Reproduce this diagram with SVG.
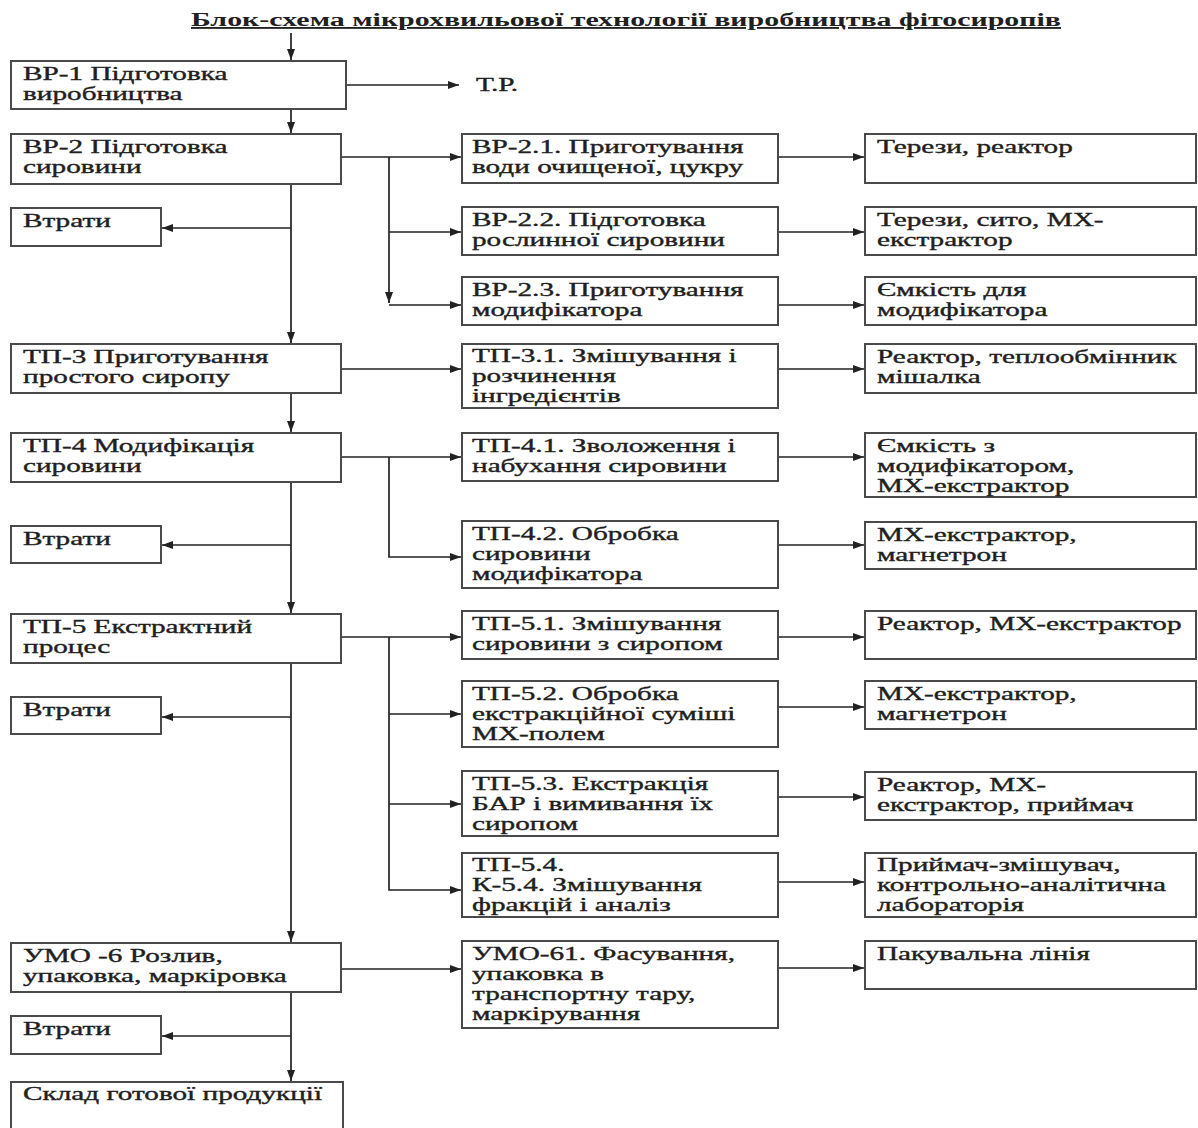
<svg xmlns="http://www.w3.org/2000/svg" width="1198" height="1128" viewBox="0 0 1198 1128">
<defs>
<marker id="ah" markerUnits="userSpaceOnUse" markerWidth="11" markerHeight="8" refX="11" refY="4" orient="auto">
<path d="M0,0 L11,4 L0,8 z" fill="#222"/>
</marker>
<style>
.box{fill:#fff;stroke:#4a4a4a;stroke-width:2}
.t{font-family:"Liberation Serif","Times New Roman",serif;font-size:18.5px;fill:#202020;stroke:#202020;stroke-width:0.35}
.title{font-family:"Liberation Serif","Times New Roman",serif;font-size:18.5px;font-weight:bold;fill:#202020;text-decoration:underline}
.c{fill:none;stroke:#222;stroke-width:1.7}
.a{marker-end:url(#ah)}
</style>
</defs>
<rect width="1198" height="1128" fill="#fff"/>
<text class="title" x="191" y="26" textLength="870" lengthAdjust="spacingAndGlyphs">Блок-схема мікрохвильової технології виробництва фітосиропів</text>

<g id="connectors">
<path class="c a" d="M291,33 V60"/>
<path class="c a" d="M346,85 H459"/>
<path class="c a" d="M291,109 V133"/>
<path class="c a" d="M341,157 H461"/>
<path class="c a" d="M389,157 V303"/>
<path class="c a" d="M389,232 H461"/>
<path class="c a" d="M389,305 H461"/>
<path class="c a" d="M778,157 H864"/>
<path class="c a" d="M778,232 H864"/>
<path class="c a" d="M778,305 H864"/>
<path class="c a" d="M291,184 V343"/>
<path class="c a" d="M291,228 H162"/>
<path class="c a" d="M341,369 H461"/>
<path class="c a" d="M778,369 H864"/>
<path class="c a" d="M291,393 V432"/>
<path class="c a" d="M341,457 H461"/>
<path class="c a" d="M389,457 V557 H461"/>
<path class="c a" d="M778,457 H864"/>
<path class="c a" d="M778,545 H864"/>
<path class="c a" d="M291,482 V613"/>
<path class="c a" d="M291,545 H162"/>
<path class="c a" d="M341,637 H461"/>
<path class="c a" d="M389,637 V890 H461"/>
<path class="c a" d="M389,714 H461"/>
<path class="c a" d="M389,804 H461"/>
<path class="c a" d="M778,637 H864"/>
<path class="c a" d="M778,707 H864"/>
<path class="c a" d="M778,797 H864"/>
<path class="c a" d="M778,882 H864"/>
<path class="c a" d="M291,663 V942"/>
<path class="c a" d="M291,717 H162"/>
<path class="c a" d="M341,969 H461"/>
<path class="c a" d="M778,968 H864"/>
<path class="c a" d="M291,992 V1081"/>
<path class="c a" d="M291,1036 H162"/>
</g>

<text class="t" transform="translate(476,91) scale(1.58,1)">Т.Р.</text>

<g id="vr1"><rect class="box" x="11" y="61" width="335" height="48"/>
<text class="t" transform="translate(23,80) scale(1.58,1)"><tspan x="0" y="0">ВР-1 Підготовка</tspan><tspan x="0" y="20">виробництва</tspan></text></g>
<g id="vr2"><rect class="box" x="11" y="134" width="330" height="50"/>
<text class="t" transform="translate(23,153) scale(1.58,1)"><tspan x="0" y="0">ВР-2 Підготовка</tspan><tspan x="0" y="20">сировини</tspan></text></g>
<g id="loss1"><rect class="box" x="11" y="208" width="150" height="38"/>
<text class="t" transform="translate(23,227) scale(1.58,1)">Втрати</text></g>
<g id="tp3"><rect class="box" x="11" y="344" width="330" height="49"/>
<text class="t" transform="translate(23,363) scale(1.58,1)"><tspan x="0" y="0">ТП-3 Приготування</tspan><tspan x="0" y="20">простого сиропу</tspan></text></g>
<g id="tp4"><rect class="box" x="11" y="433" width="330" height="49"/>
<text class="t" transform="translate(23,452) scale(1.58,1)"><tspan x="0" y="0">ТП-4 Модифікація</tspan><tspan x="0" y="20">сировини</tspan></text></g>
<g id="loss2"><rect class="box" x="11" y="526" width="150" height="37"/>
<text class="t" transform="translate(23,545) scale(1.58,1)">Втрати</text></g>
<g id="tp5"><rect class="box" x="11" y="614" width="330" height="49"/>
<text class="t" transform="translate(23,633) scale(1.58,1)"><tspan x="0" y="0">ТП-5 Екстрактний</tspan><tspan x="0" y="20">процес</tspan></text></g>
<g id="loss3"><rect class="box" x="11" y="697" width="150" height="37"/>
<text class="t" transform="translate(23,716) scale(1.58,1)">Втрати</text></g>
<g id="umo6"><rect class="box" x="11" y="943" width="330" height="49"/>
<text class="t" transform="translate(23,962) scale(1.58,1)"><tspan x="0" y="0">УМО -6 Розлив,</tspan><tspan x="0" y="20">упаковка, маркіровка</tspan></text></g>
<g id="loss4"><rect class="box" x="11" y="1016" width="150" height="38"/>
<text class="t" transform="translate(23,1035) scale(1.58,1)">Втрати</text></g>
<g id="sklad"><rect class="box" x="11" y="1082" width="332" height="60"/>
<text class="t" transform="translate(23,1100) scale(1.58,1)">Склад готової продукції</text></g>

<g id="vr21"><rect class="box" x="462" y="134" width="316" height="49"/>
<text class="t" transform="translate(472,153) scale(1.58,1)"><tspan x="0" y="0">ВР-2.1. Приготування</tspan><tspan x="0" y="20">води очищеної, цукру</tspan></text></g>
<g id="vr22"><rect class="box" x="462" y="207" width="316" height="48"/>
<text class="t" transform="translate(472,226) scale(1.58,1)"><tspan x="0" y="0">ВР-2.2. Підготовка</tspan><tspan x="0" y="20">рослинної сировини</tspan></text></g>
<g id="vr23"><rect class="box" x="462" y="277" width="316" height="48"/>
<text class="t" transform="translate(472,296) scale(1.58,1)"><tspan x="0" y="0">ВР-2.3. Приготування</tspan><tspan x="0" y="20">модифікатора</tspan></text></g>
<g id="tp31"><rect class="box" x="462" y="344" width="316" height="64"/>
<text class="t" transform="translate(472,362) scale(1.58,1)"><tspan x="0" y="0">ТП-3.1. Змішування і</tspan><tspan x="0" y="20">розчинення</tspan><tspan x="0" y="40">інгредієнтів</tspan></text></g>
<g id="tp41"><rect class="box" x="462" y="433" width="316" height="48"/>
<text class="t" transform="translate(472,452) scale(1.58,1)"><tspan x="0" y="0">ТП-4.1. Зволоження і</tspan><tspan x="0" y="20">набухання сировини</tspan></text></g>
<g id="tp42"><rect class="box" x="462" y="521" width="316" height="67"/>
<text class="t" transform="translate(472,540) scale(1.58,1)"><tspan x="0" y="0">ТП-4.2. Обробка</tspan><tspan x="0" y="20">сировини</tspan><tspan x="0" y="40">модифікатора</tspan></text></g>
<g id="tp51"><rect class="box" x="462" y="611" width="316" height="48"/>
<text class="t" transform="translate(472,630) scale(1.58,1)"><tspan x="0" y="0">ТП-5.1. Змішування</tspan><tspan x="0" y="20">сировини з сиропом</tspan></text></g>
<g id="tp52"><rect class="box" x="462" y="681" width="316" height="66"/>
<text class="t" transform="translate(472,700) scale(1.58,1)"><tspan x="0" y="0">ТП-5.2. Обробка</tspan><tspan x="0" y="20">екстракційної суміші</tspan><tspan x="0" y="40">МХ-полем</tspan></text></g>
<g id="tp53"><rect class="box" x="462" y="771" width="316" height="65"/>
<text class="t" transform="translate(472,790) scale(1.58,1)"><tspan x="0" y="0">ТП-5.3. Екстракція</tspan><tspan x="0" y="20">БАР і вимивання їх</tspan><tspan x="0" y="40">сиропом</tspan></text></g>
<g id="tp54"><rect class="box" x="462" y="853" width="316" height="64"/>
<text class="t" transform="translate(472,871) scale(1.58,1)"><tspan x="0" y="0">ТП-5.4.</tspan><tspan x="0" y="20">К-5.4. Змішування</tspan><tspan x="0" y="40">фракцій і аналіз</tspan></text></g>
<g id="umo61"><rect class="box" x="462" y="941" width="316" height="87"/>
<text class="t" transform="translate(472,960) scale(1.58,1)"><tspan x="0" y="0">УМО-61. Фасування,</tspan><tspan x="0" y="20">упаковка в</tspan><tspan x="0" y="40">транспортну тару,</tspan><tspan x="0" y="60">маркірування</tspan></text></g>

<g id="r21"><rect class="box" x="865" y="134" width="331" height="49"/>
<text class="t" transform="translate(877,153) scale(1.58,1)">Терези, реактор</text></g>
<g id="r22"><rect class="box" x="865" y="207" width="331" height="48"/>
<text class="t" transform="translate(877,226) scale(1.58,1)"><tspan x="0" y="0">Терези, сито, МХ-</tspan><tspan x="0" y="20">екстрактор</tspan></text></g>
<g id="r23"><rect class="box" x="865" y="277" width="331" height="48"/>
<text class="t" transform="translate(877,296) scale(1.58,1)"><tspan x="0" y="0">Ємкість для</tspan><tspan x="0" y="20">модифікатора</tspan></text></g>
<g id="r31"><rect class="box" x="865" y="344" width="331" height="49"/>
<text class="t" transform="translate(877,363) scale(1.58,1)"><tspan x="0" y="0">Реактор, теплообмінник</tspan><tspan x="0" y="20">мішалка</tspan></text></g>
<g id="r41"><rect class="box" x="865" y="433" width="331" height="64"/>
<text class="t" transform="translate(877,452) scale(1.58,1)"><tspan x="0" y="0">Ємкість з</tspan><tspan x="0" y="20">модифікатором,</tspan><tspan x="0" y="40">МХ-екстрактор</tspan></text></g>
<g id="r42"><rect class="box" x="865" y="522" width="331" height="47"/>
<text class="t" transform="translate(877,541) scale(1.58,1)"><tspan x="0" y="0">МХ-екстрактор,</tspan><tspan x="0" y="20">магнетрон</tspan></text></g>
<g id="r51"><rect class="box" x="865" y="611" width="331" height="48"/>
<text class="t" transform="translate(877,630) scale(1.58,1)">Реактор, МХ-екстрактор</text></g>
<g id="r52"><rect class="box" x="865" y="681" width="331" height="48"/>
<text class="t" transform="translate(877,700) scale(1.58,1)"><tspan x="0" y="0">МХ-екстрактор,</tspan><tspan x="0" y="20">магнетрон</tspan></text></g>
<g id="r53"><rect class="box" x="865" y="772" width="331" height="48"/>
<text class="t" transform="translate(877,791) scale(1.58,1)"><tspan x="0" y="0">Реактор, МХ-</tspan><tspan x="0" y="20">екстрактор, приймач</tspan></text></g>
<g id="r54"><rect class="box" x="865" y="853" width="331" height="64"/>
<text class="t" transform="translate(877,871) scale(1.58,1)"><tspan x="0" y="0">Приймач-змішувач,</tspan><tspan x="0" y="20">контрольно-аналітична</tspan><tspan x="0" y="40">лабораторія</tspan></text></g>
<g id="r61"><rect class="box" x="865" y="941" width="331" height="48"/>
<text class="t" transform="translate(877,960) scale(1.58,1)">Пакувальна лінія</text></g>
</svg>
